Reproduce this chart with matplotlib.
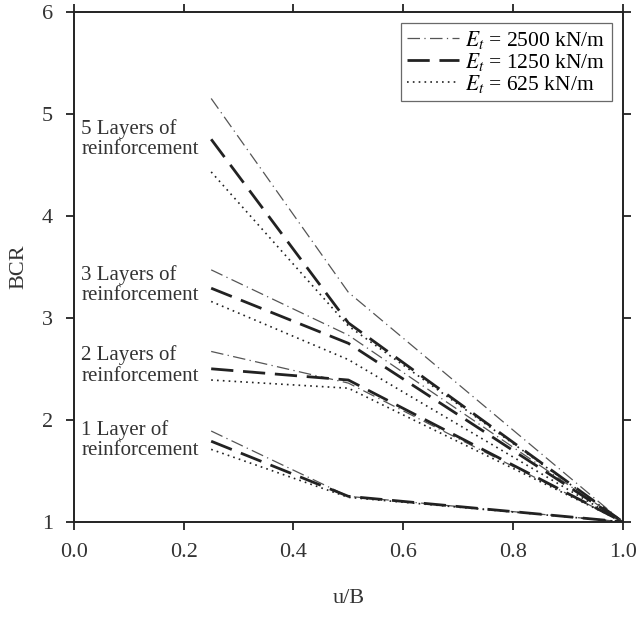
import matplotlib
matplotlib.use("Agg")
import matplotlib.pyplot as plt

plt.rcParams['font.family'] = ['Liberation Serif', 'DejaVu Serif']
plt.rcParams['mathtext.fontset'] = 'stix'

# u/B positions and BCR values for each stiffness and number of layers
uB = [0.25, 0.5, 1.0]

bcr_2500 = {
    5: [5.15, 3.25, 1.0],
    3: [3.47, 2.83, 1.0],
    2: [2.67, 2.36, 1.0],
    1: [1.89, 1.25, 1.0],
}
bcr_1250 = {
    5: [4.75, 2.95, 1.0],
    3: [3.29, 2.75, 1.0],
    2: [2.50, 2.39, 1.0],
    1: [1.79, 1.25, 1.0],
}
bcr_625 = {
    5: [4.43, 2.92, 1.0],
    3: [3.16, 2.59, 1.0],
    2: [2.39, 2.31, 1.0],
    1: [1.71, 1.24, 1.0],
}

layer_labels = {
    5: "5 Layers of\nreinforcement",
    3: "3 Layers of\nreinforcement",
    2: "2 Layers of\nreinforcement",
    1: "1 Layer of\nreinforcement",
}
label_y = {5: 4.75, 3: 3.32, 2: 2.53, 1: 1.80}

fig = plt.figure(figsize=(6.38, 6.19), dpi=100)
ax = fig.add_axes([0.116, 0.157, 0.860, 0.824])

for n in [5, 3, 2, 1]:
    ax.plot(uB, bcr_2500[n], color='#555555', lw=0.9, dashes=(10, 3.5, 1, 3.5),
            label=r'$E_t$ = 2500 kN/m' if n == 5 else None)
    ax.plot(uB, bcr_1250[n], color='#222222', lw=2.0, dashes=(8, 3.5),
            label=r'$E_t$ = 1250 kN/m' if n == 5 else None)
    ax.plot(uB, bcr_625[n], color='#222222', lw=1.2, dashes=(1, 2.5),
            label=r'$E_t$ = 625 kN/m' if n == 5 else None)
    ax.text(0.013, label_y[n], layer_labels[n], fontsize=15, va='center',
            ha='left', color='#333333', linespacing=1.1)

ax.set_xlim(0, 1.0)
ax.set_ylim(1, 6)
ax.set_xticks([0.0, 0.2, 0.4, 0.6, 0.8, 1.0])
ax.set_yticks([1, 2, 3, 4, 5, 6])
ax.set_xticklabels(["0.0", "0.2", "0.4", "0.6", "0.8", "1.0"])
ax.tick_params(direction='out', length=6, width=1.3, labelsize=16,
               top=True, right=True, colors='#222222', labelcolor='#333333')
ax.tick_params(axis='x', pad=9)
ax.tick_params(axis='y', pad=9)
for s in ax.spines.values():
    s.set_linewidth(1.4)
    s.set_color('#222222')

ax.set_xlabel("u/B", fontsize=16, labelpad=20, color='#333333')
ax.set_ylabel("BCR", fontsize=16, labelpad=10, color='#333333')

leg = ax.legend(loc='upper right', fontsize=15.5, frameon=True, fancybox=False,
                edgecolor='#444444', handlelength=2.4, handletextpad=0.3,
                borderpad=0.3, labelspacing=0.0, borderaxespad=0.5)
leg.get_frame().set_linewidth(0.9)

fig.savefig("out.png", dpi=100)
